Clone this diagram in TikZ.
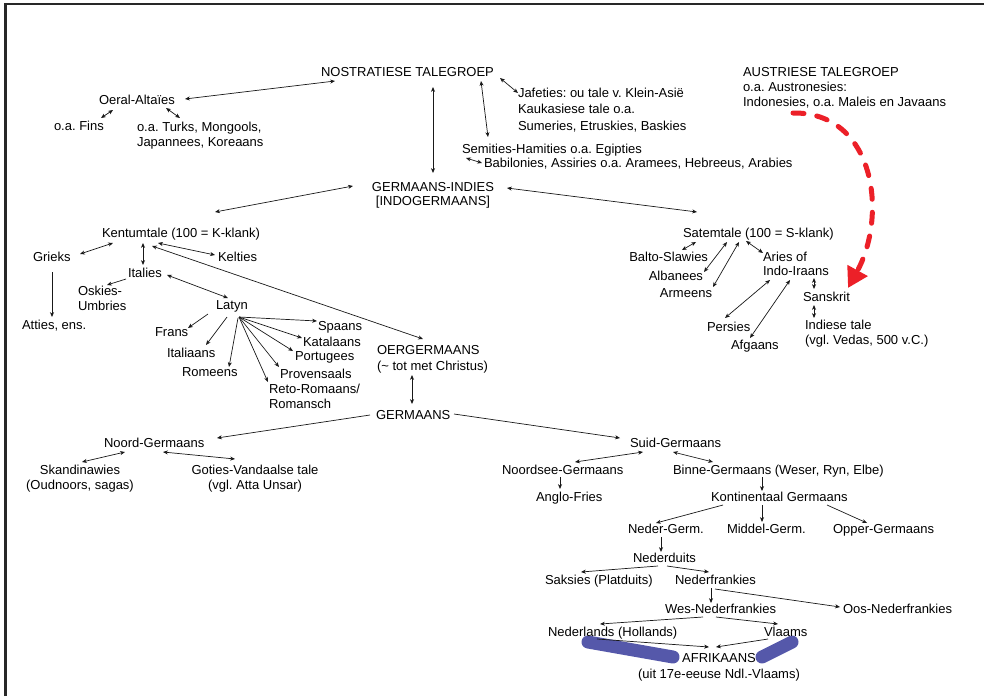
\documentclass[tikz,border=0pt]{standalone}
\usepackage{fontspec}
\setmainfont{Liberation Sans}
\usetikzlibrary{arrows.meta}
\newcommand\myp[3]{([shift={(#2,#3)}]#1)}
\definecolor{frame}{RGB}{40,40,40}
\definecolor{redarrow}{RGB}{236,32,40}
\definecolor{bluebar}{RGB}{85,88,170}
\frenchspacing
\begin{document}
\begin{tikzpicture}[x=1pt,y=-1pt,
  lbl/.style={inner sep=0pt, outer sep=0pt, font=\fontsize{13}{15}\selectfont, align=left, anchor=north west, text=black},
  cl/.style={lbl, align=center, anchor=north},
  er/.style={lbl, align=right, anchor=north east},
  con/.style={line width=0.7pt, draw=black!90},
  >={Stealth[length=4.8pt,width=4pt,inset=1.4pt]}]
\useasboundingbox (0,0) rectangle (984,696);
% frame (left and top edges)
\draw[frame, line width=2.8pt] (5.5,696) -- (5.5,4) -- (984,4);
% blue highlight bars
\draw[bluebar, line width=13pt, line cap=round] (588,642) -- (673,657);
\draw[bluebar, line width=13pt, line cap=round] (762,657) -- (792,642);
% nodes
\node[lbl] (nos) at (321,67) {NOSTRATIESE TALEGROEP};
\node[lbl] (oeral) at (99,95) {Oeral-Altaïes};
\node[lbl] (fins) at (54,121) {o.a. Fins};
\node[lbl] (turks) at (137,122) {o.a. Turks, Mongools,\\Japannees, Koreaans};
\node[lbl,font=\fontsize{13}{16.5}\selectfont] (jaf) at (518,88) {Jafeties: ou tale v. Klein-Asië\\Kaukasiese tale o.a.\\Sumeries, Etruskies, Baskies};
\node[lbl] (semi) at (462,144) {Semities-Hamities o.a. Egipties};
\node[lbl] (babi) at (484,158) {Babilonies, Assiries o.a. Aramees, Hebreeus, Arabies};
\node[cl,font=\fontsize{13}{14}\selectfont] (gi) at (433,182) {GERMAANS-INDIES\\{}[INDOGERMAANS]};
\node[lbl] (aus) at (743,67) {AUSTRIESE TALEGROEP\\o.a. Austronesies:\\Indonesies, o.a. Maleis en Javaans};
\node[lbl] (kent) at (102,228) {Kentumtale (100 = K-klank)};
\node[lbl] (grieks) at (33,252) {Grieks};
\node[lbl] (kelt) at (218,252) {Kelties};
\node[lbl] (ital) at (128,268) {Italies};
\node[lbl] (osk) at (78,286) {Oskies-\\Umbries};
\node[lbl] (atties) at (22,320) {Atties, ens.};
\node[lbl] (latyn) at (216,301) {Latyn};
\node[lbl] (frans) at (155,328) {Frans};
\node[lbl] (itala) at (167,348) {Italiaans};
\node[lbl] (rom) at (182,368) {Romeens};
\node[lbl] (spa) at (318,321) {Spaans};
\node[lbl] (kat) at (303,337) {Katalaans};
\node[lbl] (port) at (295,352) {Portugees};
\node[lbl] (prov) at (280,369) {Provensaals};
\node[lbl] (reto) at (269,384) {Reto-Romaans/\\Romansch};
\node[lbl,font=\fontsize{13}{16}\selectfont] (oerg) at (377,345) {OERGERMAANS\\(\textasciitilde{} tot met Christus)};
\node[lbl] (germ) at (376,410) {GERMAANS};
\node[lbl] (noord) at (104,438) {Noord-Germaans};
\node[cl] (skan) at (80,465) {Skandinawies\\(Oudnoors, sagas)};
\node[cl] (goties) at (255,465) {Goties-Vandaalse tale\\(vgl. Atta Unsar)};
\node[lbl] (suid) at (630,438) {Suid-Germaans};
\node[lbl] (noordsee) at (502,465) {Noordsee-Germaans};
\node[lbl] (anglo) at (536,492) {Anglo-Fries};
\node[lbl] (binne) at (673,465) {Binne-Germaans (Weser, Ryn, Elbe)};
\node[lbl] (kont) at (711,492) {Kontinentaal Germaans};
\node[lbl] (nederg) at (628,524) {Neder-Germ.};
\node[lbl] (middel) at (727,524) {Middel-Germ.};
\node[lbl] (opper) at (833,524) {Opper-Germaans};
\node[lbl] (nederd) at (633,553) {Nederduits};
\node[lbl] (saks) at (545,575) {Saksies (Platduits)};
\node[lbl] (nederf) at (675,575) {Nederfrankies};
\node[lbl] (wes) at (665,604) {Wes-Nederfrankies};
\node[lbl] (oos) at (843,604) {Oos-Nederfrankies};
\node[lbl] (nl) at (548,627) {Nederlands (Hollands)};
\node[lbl] (vlaams) at (764,627) {Vlaams};
\node[cl,font=\fontsize{13}{16.3}\selectfont] (afr) at (719,653) {AFRIKAANS\\(uit 17e-eeuse Ndl.-Vlaams)};
\node[lbl] (satem) at (683,228) {Satemtale (100 = S-klank)};
\node[er] (balto) at (708,252) {Balto-Slawies};
\node[er] (alb) at (703,271) {Albanees};
\node[er] (arm) at (712,289) {Armeens};
\node[lbl,font=\fontsize{13}{14.5}\selectfont] (aries) at (763,252) {Aries of\\Indo-Iraans};
\node[lbl] (sansk) at (803,292) {Sanskrit};
\node[lbl] (indiese) at (805,320) {Indiese tale\\(vgl. Vedas, 500 v.C.)};
\node[lbl] (pers) at (707,322) {Persies};
\node[lbl] (afg) at (731,340) {Afgaans};
% connectors
\draw[con,<->] \myp{oeral.north west}{86}{4} -- \myp{nos.north west}{14}{14};
\draw[con,<->] \myp{oeral.north west}{14}{15} -- \myp{fins.north west}{47}{-3};
\draw[con,<->] \myp{oeral.north west}{67}{13} -- \myp{turks.north west}{43}{-4};
\draw[con,<->] \myp{nos.north west}{112}{20} -- \myp{gi.north}{0}{-9};
\draw[con,<->] \myp{nos.north west}{160}{14} -- \myp{semi.north west}{26}{-7};
\draw[con,<->] \myp{nos.north west}{179}{11} -- \myp{jaf.north west}{0}{5};
\draw[con,<->] \myp{semi.north west}{4}{14} -- \myp{babi.north west}{-2}{5};
\draw[con,<->] \myp{gi.north}{-80}{4} -- \myp{kent.north west}{113}{-16};
\draw[con,<->] \myp{gi.north}{74}{6} -- \myp{satem.north west}{14}{-16};
\draw[con,<->] \myp{kent.north west}{11}{15} -- \myp{grieks.north west}{47}{2};
\draw[con,<->] \myp{kent.north west}{41}{15} -- \myp{ital.north west}{15}{-3};
\draw[con,<->] \myp{kent.north west}{56}{15} -- \myp{kelt.north west}{-3}{3};
\draw[con,<->] \myp{kent.north west}{50}{18} -- \myp{oerg.north west}{46}{-6};
\draw[con,->] \myp{grieks.north west}{19}{20} -- \myp{atties.north west}{30}{-3};
\draw[con,->] \myp{ital.north west}{-2}{11} -- \myp{osk.north west}{29}{-1};
\draw[con,<->] \myp{ital.north west}{39}{7} -- \myp{latyn.north west}{12}{-3};
\draw[con,->] \myp{latyn.north west}{-8}{13} -- \myp{frans.north west}{33}{0};
\draw[con,->] \myp{latyn.north west}{11}{16} -- \myp{itala.north west}{39}{-3};
\draw[con,->] \myp{latyn.north west}{22}{17} -- \myp{rom.north west}{47}{-1};
\draw[con,->] \myp{latyn.north west}{23}{16} -- \myp{spa.north west}{-1}{0};
\draw[con,->] \myp{latyn.north west}{23}{16} -- \myp{kat.north west}{-1}{1};
\draw[con,->] \myp{latyn.north west}{23}{16} -- \myp{port.north west}{-2}{-1};
\draw[con,->] \myp{latyn.north west}{23}{16} -- \myp{prov.north west}{-1}{-2};
\draw[con,->] \myp{latyn.north west}{23}{16} -- \myp{reto.north west}{-1}{-2};
\draw[con,<->] \myp{oerg.north west}{35}{30} -- \myp{germ.north west}{36}{-6};
\draw[con,->] \myp{germ.north west}{-6}{5} -- \myp{noord.north west}{113}{0};
\draw[con,->] \myp{germ.north west}{78}{4} -- \myp{suid.north west}{-10}{0};
\draw[con,<->] \myp{noord.north west}{21}{14} -- \myp{skan.north}{2}{-3};
\draw[con,<->] \myp{noord.north west}{59}{14} -- \myp{goties.north}{-20}{-6};
\draw[con,<->] \myp{suid.north west}{13}{14} -- \myp{noordsee.north west}{73}{-3};
\draw[con,<->] \myp{suid.north west}{43}{14} -- \myp{binne.north west}{40}{-3};
\draw[con,->] \myp{noordsee.north west}{58}{12} -- \myp{anglo.north west}{24}{-3};
\draw[con,->] \myp{binne.north west}{89}{12} -- \myp{kont.north west}{51}{-1};
\draw[con,->] \myp{kont.north west}{12}{13} -- \myp{nederg.north west}{28}{-1};
\draw[con,->] \myp{kont.north west}{51}{13} -- \myp{middel.north west}{35}{-2};
\draw[con,->] \myp{kont.north west}{116}{13} -- \myp{opper.north west}{34}{-1};
\draw[con,->] \myp{nederg.north west}{33}{13} -- \myp{nederd.north west}{28}{-1};
\draw[con,->] \myp{nederd.north west}{25}{13} -- \myp{saks.north west}{36}{-3};
\draw[con,->] \myp{nederd.north west}{34}{13} -- \myp{nederf.north west}{34}{-3};
\draw[con,->] \myp{nederf.north west}{36}{13} -- \myp{wes.north west}{46}{-1};
\draw[con,->] \myp{nederf.north west}{40}{14} -- \myp{oos.north west}{-3}{3};
\draw[con,->] \myp{wes.north west}{38}{13} -- \myp{nl.north west}{52}{-3};
\draw[con,->] \myp{wes.north west}{51}{13} -- \myp{vlaams.north west}{14}{-3};
\draw[con,->] \myp{nl.north west}{49}{12} -- \myp{afr.north}{-10}{-6};
\draw[con,->] \myp{vlaams.north west}{4}{12} -- \myp{afr.north}{-3}{-6};
\draw[con,<->] \myp{satem.north west}{13}{14} -- \myp{balto.north east}{-26}{-2};
\draw[con,<->] \myp{satem.north west}{44}{14} -- \myp{alb.north east}{1}{1};
\draw[con,<->] \myp{satem.north west}{56}{14} -- \myp{arm.north east}{1}{-2};
\draw[con,<->] \myp{satem.north west}{63}{13} -- \myp{aries.north west}{0}{1};
\draw[con,<->] \myp{aries.north west}{51}{26} -- \myp{sansk.north west}{11}{-3};
\draw[con,<->] \myp{sansk.north west}{11}{13} -- \myp{indiese.north west}{9}{-2};
\draw[con,<->] \myp{aries.north west}{7}{28} -- \myp{pers.north west}{18}{-4};
\draw[con,<->] \myp{aries.north west}{27}{28} -- \myp{afg.north west}{19}{-2};
% red dashed arrow
\draw[redarrow, line width=5pt, line cap=round, dash pattern=on 11pt off 13pt,
  -{Triangle[length=20pt,width=22pt]}]
  \myp{aus.north west}{50}{46} .. controls (875,112) and (888,215) .. \myp{sansk.north west}{45}{-4};
\end{tikzpicture}
\end{document}
